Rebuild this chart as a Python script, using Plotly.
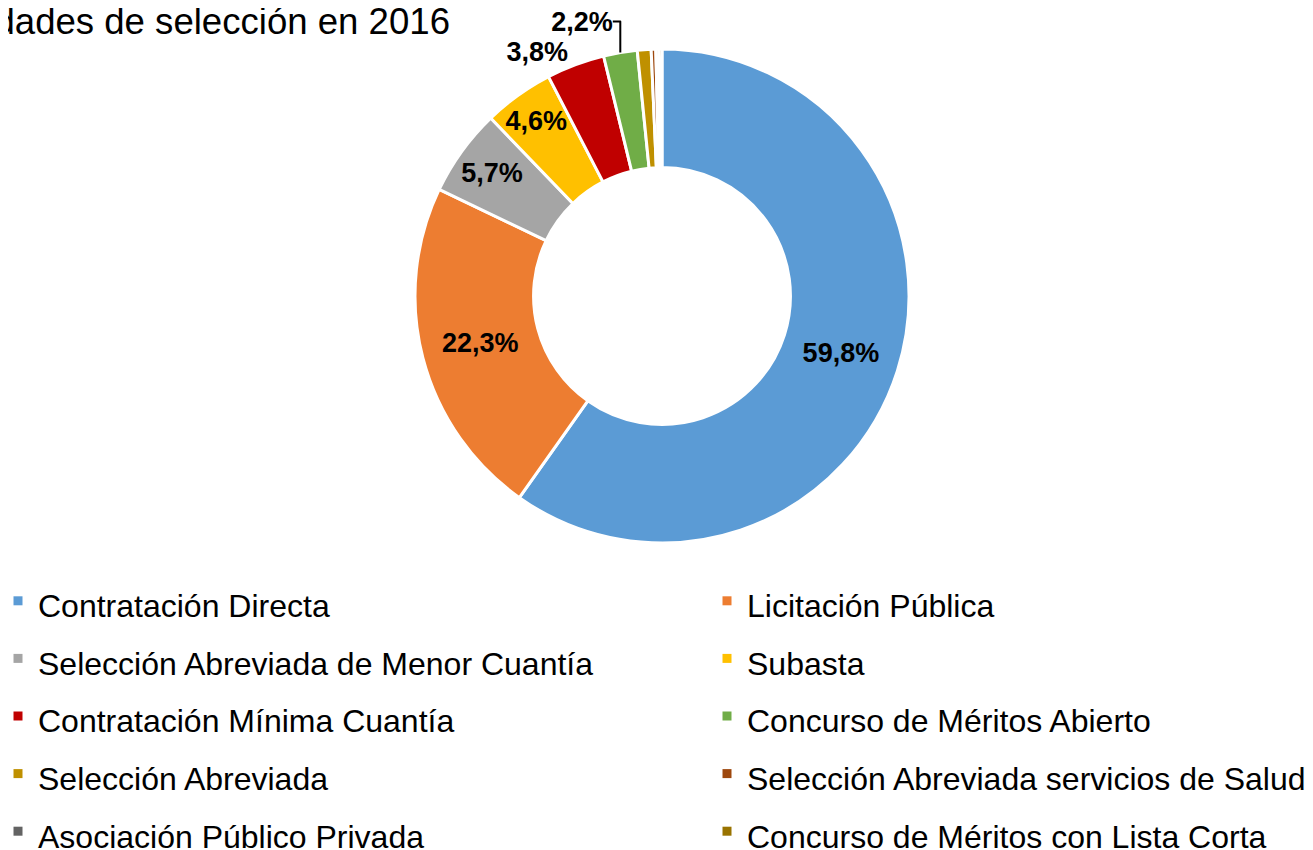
import plotly.graph_objects as go

categories = [
    "Contratación Directa",
    "Licitación Pública",
    "Selección Abreviada de Menor Cuantía",
    "Subasta",
    "Contratación Mínima Cuantía",
    "Concurso de Méritos Abierto",
    "Selección Abreviada",
    "Selección Abreviada servicios de Salud",
    "Asociación Público Privada",
    "Concurso de Méritos con Lista Corta",
]
values = [59.8, 22.3, 5.7, 4.6, 3.8, 2.2, 0.9, 0.3, 0.2, 0.2]
colors = ["#5B9BD5", "#ED7D31", "#A5A5A5", "#FFC000", "#C00000",
          "#70AD47", "#BF9000", "#9E480E", "#636363", "#997300"]
text_pos = ["inside", "inside", "inside", "inside", "outside", "outside",
            "none", "none", "none", "none"]

FONT = "Liberation Sans, Arial, sans-serif"
W, H = 1313, 850
MT, MB = 41, 315
PH = H - MT - MB
CX, R = 662 - 8, 247

fig = go.Figure()
fig.add_trace(go.Pie(
    labels=categories,
    values=values,
    sort=False,
    direction="clockwise",
    rotation=0,
    hole=0.52,
    marker=dict(colors=colors, line=dict(color="white", width=3)),
    textposition=text_pos,
    texttemplate="%{value:.1f}%",
    insidetextorientation="horizontal",
    textfont=dict(family=FONT, size=27, color="black", weight="bold"),
    outsidetextfont=dict(family=FONT, size=27, color="black", weight="bold"),
    domain=dict(x=[(CX - R) / W, (CX + R) / W], y=[0, 1]),
    showlegend=False,
    hoverinfo="label+percent",
))

# legend entries (two columns, row-major order like the original)
for i, (name, col) in enumerate(zip(categories, colors)):
    fig.add_trace(go.Scatter(
        x=[None], y=[None], mode="markers",
        marker=dict(symbol="square", size=9, color=col),
        name='<span style="font-size:32px">' + name + '</span>',
        legend="legend" if i % 2 == 0 else "legend2",
        showlegend=True, hoverinfo="skip",
    ))

leg_common = dict(orientation="v", xanchor="left", yanchor="top", yref="paper",
                  font=dict(family=FONT, size=42, color="black"),
                  itemwidth=30, traceorder="normal", bgcolor="rgba(0,0,0,0)",
                  tracegroupgap=0)
LEG_TOP = 559
PB = H - MB
fig.update_layout(
    width=W, height=H,
    separators=",.",
    paper_bgcolor="white", plot_bgcolor="white",
    margin=dict(l=0, r=0, t=MT, b=MB, autoexpand=False),
    font=dict(family=FONT, color="black"),
    uniformtext=dict(minsize=27, mode="show"),
    xaxis=dict(visible=False), yaxis=dict(visible=False),
    title=dict(text="Modalidades de selección en 2016", x=442 / W, xanchor="right",
               xref="container", y=1 - 13 / H, yref="container", yanchor="middle",
               font=dict(family=FONT, size=36.6, color="black")),
    legend=dict(x=-10 / W, y=-(LEG_TOP - PB) / PH, **leg_common),
    legend2=dict(x=699 / W, y=-(LEG_TOP - PB) / PH, **leg_common),
)

fig.write_html("out.html")
